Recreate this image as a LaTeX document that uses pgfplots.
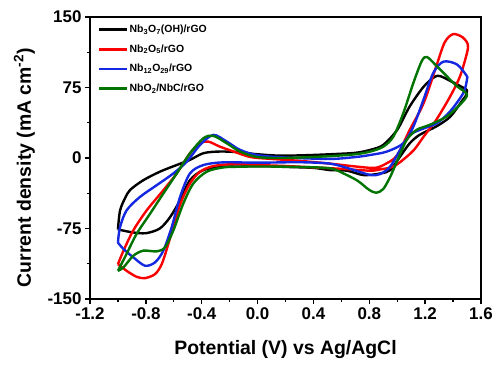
\documentclass[border=0pt]{standalone}
\usepackage{pgfplots}
\pgfplotsset{compat=1.18}
\usepackage{fontspec}
\setmainfont{Liberation Sans}
\definecolor{cvred}{RGB}{250,0,0}
\definecolor{cvblue}{RGB}{20,40,225}
\definecolor{cvgreen}{RGB}{0,115,0}
\begin{document}
\begin{tikzpicture}
\begin{axis}[
  scale only axis, width=391bp, height=282bp,
  xmin=-1.2, xmax=1.6, ymin=-150, ymax=150,
  xtick={-1.2,-0.8,-0.4,0,0.4,0.8,1.2,1.6},
  ytick={-150,-75,0,75,150},
  minor x tick num=1, minor y tick num=1,
  tick align=outside, tick pos=left,
  major tick length=5bp, minor tick length=3bp,
  every tick/.style={black, line width=1.3bp},
  axis line style={line width=1.6bp},
  /pgf/number format/assume math mode=true,
  tick label style={font=\fontsize{17}{19}\selectfont\bfseries},
  xticklabel style={/pgf/number format/fixed,/pgf/number format/fixed zerofill,/pgf/number format/precision=1},
  yticklabel style={/pgf/number format/fixed,/pgf/number format/precision=0},
  xlabel={Potential (V) vs Ag/AgCl},
  ylabel={Current density (mA cm\textsuperscript{-2})},
  label style={font=\fontsize{19.5}{22}\selectfont\bfseries},
  xlabel style={at={(axis description cs:0.5,-0.18)}, anchor=center},
  ylabel style={at={(axis description cs:-0.168,0.466)}, anchor=center},
  legend style={draw=none, fill=none, at={(axis description cs:0,1)}, anchor=north west,
    xshift=5bp, yshift=-4bp,
    font=\fontsize{10.5}{12}\selectfont\bfseries, row sep=6.5bp,
    nodes={inner xsep=1bp}},
  legend cell align=left,
  legend image code/.code={\draw[#1, line width=2.5bp] (0bp,0bp) -- (28bp,0bp);},
  every axis plot/.append style={line width=2.4bp, smooth, line join=round},
]
% Nb3O7(OH)/rGO
\addplot[black] coordinates {
(-1.0,-76) (-0.985,-56) (-0.95,-43) (-0.913,-34) (-0.818,-23.6) (-0.70,-14.6) (-0.58,-7.5) (-0.484,-2) (-0.39,5) (-0.29,6.8) (-0.17,6.5) (0.0,4) (0.16,2.5) (0.35,3) (0.52,4) (0.70,5.5) (0.806,8.6) (0.90,13.9) (1.0,30) (1.09,55) (1.19,76) (1.27,86.5) (1.31,87) (1.38,82) (1.47,75) (1.50,72)
(1.49,66) (1.47,62) (1.38,44) (1.28,33.6) (1.16,24.6) (1.09,15.7) (1.02,1.4) (0.95,-12.9) (0.88,-16.4) (0.76,-18.2) (0.64,-13.5) (0.52,-12.9) (0.40,-10.5) (0.20,-9.5) (0.04,-8.6) (-0.12,-9) (-0.245,-9.3) (-0.388,-12.9) (-0.484,-23.6) (-0.555,-45) (-0.627,-63) (-0.70,-75) (-0.80,-80) (-0.90,-79) (-1.0,-76)
};
\addlegendentry{Nb\textsubscript{3}O\textsubscript{7}(OH)/rGO}
% Nb2O5/rGO
\addplot[cvred] coordinates {
(-1.0,-113) (-0.96,-98.6) (-0.89,-77) (-0.794,-55.7) (-0.675,-34.3) (-0.579,-16.4) (-0.484,5) (-0.41,15.7) (-0.353,17.5) (-0.27,12.1) (-0.17,6.8) (-0.05,1) (0.1,-1) (0.3,-3) (0.52,-6) (0.70,-9) (0.84,-10.5) (0.92,-6) (1.0,3) (1.09,30) (1.19,58.6) (1.28,97.8) (1.34,123) (1.40,131.8) (1.47,128.3) (1.505,121) (1.50,112)
(1.45,87) (1.38,65.7) (1.28,40.7) (1.19,22.9) (1.12,8.6) (1.04,-2.1) (0.97,-9.3) (0.88,-12.1) (0.806,-13.5) (0.6,-11.5) (0.4,-10) (0.2,-8.5) (0.0,-7.5) (-0.173,-6.5) (-0.317,-8.6) (-0.412,-14.6) (-0.484,-27.1) (-0.543,-45) (-0.591,-66.4) (-0.639,-91.4) (-0.686,-112.8) (-0.734,-123.5) (-0.806,-127.8) (-0.866,-126.4) (-0.938,-120) (-1.0,-113)
};
\addlegendentry{Nb\textsubscript{2}O\textsubscript{5}/rGO}
% Nb12O29/rGO
\addplot[cvblue] coordinates {
(-1.0,-90) (-0.985,-73.6) (-0.938,-55.7) (-0.842,-41.4) (-0.722,-28.9) (-0.603,-16.4) (-0.507,-3.9) (-0.412,13.9) (-0.317,24.6) (-0.221,17.5) (-0.125,8.6) (0.0,3) (0.2,0.5) (0.52,-1) (0.70,1) (0.806,3.2) (0.925,6.8) (1.044,15.7) (1.116,33.6) (1.188,62) (1.259,90.7) (1.331,102.5) (1.427,99.6) (1.495,88) (1.50,84)
(1.474,69.3) (1.379,49.6) (1.284,37.1) (1.164,30) (1.092,24.6) (1.021,8.6) (0.949,-9.3) (0.877,-17.1) (0.806,-18) (0.65,-11) (0.519,-6) (0.3,-4.5) (0.0,-5) (-0.245,-4.6) (-0.388,-7.5) (-0.484,-16.4) (-0.555,-41.4) (-0.615,-73.6) (-0.675,-98.6) (-0.734,-111) (-0.806,-114.6) (-0.89,-105.7) (-0.961,-96.7) (-1.0,-90)
};
\addlegendentry{Nb\textsubscript{12}O\textsubscript{29}/rGO}
% NbO2/NbC/rGO
\addplot[cvgreen] coordinates {
(-1.0,-120) (-0.938,-102) (-0.866,-80.7) (-0.77,-59.3) (-0.675,-37.8) (-0.579,-16.4) (-0.484,5) (-0.388,21) (-0.317,23.6) (-0.221,15.7) (-0.125,6.8) (0.0,1) (0.2,0) (0.52,2) (0.70,4) (0.806,6.8) (0.901,12.1) (0.973,22.9) (1.044,47.9) (1.116,80) (1.176,103.2) (1.212,107.5) (1.271,99.6) (1.355,87) (1.427,76.4) (1.50,67.5)
(1.45,56.8) (1.355,44.2) (1.235,35.4) (1.14,30) (1.068,19.3) (1.0,-3) (0.95,-20) (0.90,-33) (0.85,-37) (0.80,-34) (0.758,-29) (0.71,-23.6) (0.615,-16.4) (0.52,-11) (0.3,-9.5) (0.0,-9) (-0.125,-9.3) (-0.245,-10) (-0.364,-14.6) (-0.46,-27.1) (-0.532,-48.5) (-0.603,-77) (-0.663,-95) (-0.722,-99.3) (-0.818,-98.6) (-0.89,-104) (-0.961,-116.5) (-1.0,-120)
};
\addlegendentry{NbO\textsubscript{2}/NbC/rGO}
\end{axis}
\path (current axis.south west) ++(-90bp,-69bp) rectangle ++(504bp,368bp);
\end{tikzpicture}
\end{document}
